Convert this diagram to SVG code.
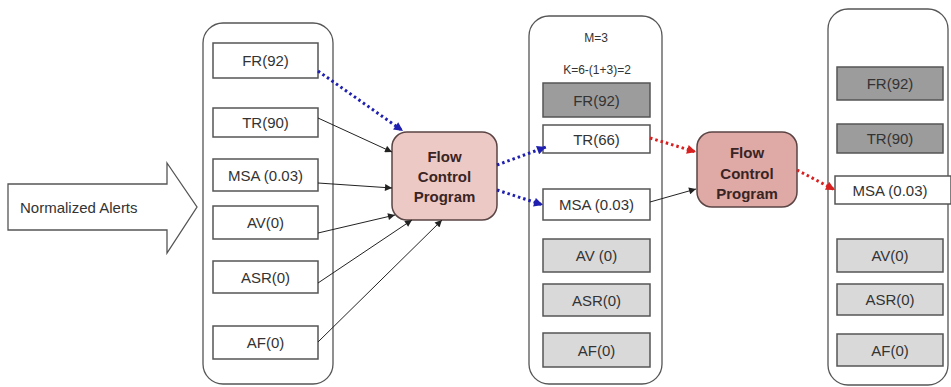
<svg xmlns="http://www.w3.org/2000/svg" width="951" height="387" viewBox="0 0 951 387">
<style>
text{font-family:"Liberation Sans",Arial,sans-serif;fill:#333;text-anchor:middle;dominant-baseline:central}
.cont{fill:#fff;stroke:#555;stroke-width:1.3}
.w{fill:#fff;stroke:#555;stroke-width:1.5}
.d{fill:#9c9c9c;stroke:#555;stroke-width:1.5}
.l{fill:#d9d9d9;stroke:#555;stroke-width:1.5}
.lbl{font-size:15px}
.fcp{stroke:#5a4444;stroke-width:1.5}
.fcpt{font-size:15px;font-weight:bold;fill:#3a2424}
.blk{stroke:#222;stroke-width:1;fill:none}
.blue{stroke:#2020b0;stroke-width:3;stroke-dasharray:2.5 3;fill:none}
.red{stroke:#d82020;stroke-width:3;stroke-dasharray:2.5 3;fill:none}
</style>
<defs>
<marker id="ab" viewBox="0 0 10 10" refX="10" refY="5" markerWidth="9" markerHeight="7" markerUnits="userSpaceOnUse" orient="auto"><path d="M0,0 L10,5 L0,10 z" fill="#222"/></marker>
<marker id="abl" viewBox="0 0 10 10" refX="10" refY="5" markerWidth="10" markerHeight="9" markerUnits="userSpaceOnUse" orient="auto"><path d="M0,0 L10,5 L0,10 z" fill="#2020b0"/></marker>
<marker id="ar" viewBox="0 0 10 10" refX="10" refY="5" markerWidth="10" markerHeight="9" markerUnits="userSpaceOnUse" orient="auto"><path d="M0,0 L10,5 L0,10 z" fill="#d82020"/></marker>
</defs>

<g id="input-arrow">
<path d="M8,184 L167,184 L167,163 L197,207 L167,253 L167,230 L8,230 Z" fill="#fff" stroke="#555" stroke-width="1.3"/>
<text x="20" y="207" style="text-anchor:start;font-size:15px">Normalized Alerts</text>
</g>

<g id="col1">
<rect class="cont" x="203" y="23" width="130" height="361" rx="20"/>
</g>
<g id="c1-fr"><rect class="w" x="213" y="43" width="105" height="35"/><text class="lbl" x="265.5" y="60.5">FR(92)</text></g>
<g id="c1-tr"><rect class="w" x="213" y="108" width="105" height="29"/><text class="lbl" x="265.5" y="122.5">TR(90)</text></g>
<g id="c1-msa"><rect class="w" x="213" y="159" width="105" height="32"/><text class="lbl" x="265.5" y="175">MSA (0.03)</text></g>
<g id="c1-av"><rect class="w" x="213" y="206" width="105" height="33"/><text class="lbl" x="265.5" y="222.5">AV(0)</text></g>
<g id="c1-asr"><rect class="w" x="213" y="261" width="105" height="32"/><text class="lbl" x="265.5" y="277">ASR(0)</text></g>
<g id="c1-af"><rect class="w" x="213" y="326" width="105" height="33"/><text class="lbl" x="265.5" y="342.5">AF(0)</text></g>

<g id="fcp1">
<rect class="fcp" x="392" y="132" width="105" height="88" rx="15" fill="#ecc9c5"/>
<text class="fcpt" x="444.5" y="156">Flow</text>
<text class="fcpt" x="444.5" y="176">Control</text>
<text class="fcpt" x="444.5" y="196">Program</text>
</g>

<g id="col2">
<rect class="cont" x="529" y="16" width="133" height="368" rx="20"/>
<text x="596" y="38" style="font-size:12px">M=3</text>
<text x="597" y="70" style="font-size:12px">K=6-(1+3)=2</text>
</g>
<g id="c2-fr"><rect class="d" x="543" y="83" width="107" height="34"/><text class="lbl" x="596.5" y="100">FR(92)</text></g>
<g id="c2-tr"><rect class="w" x="543" y="125" width="107" height="28"/><text class="lbl" x="596.5" y="139">TR(66)</text></g>
<g id="c2-msa"><rect class="w" x="543" y="189" width="107" height="31"/><text class="lbl" x="596.5" y="204.5">MSA (0.03)</text></g>
<g id="c2-av"><rect class="l" x="543" y="239" width="107" height="33"/><text class="lbl" x="596.5" y="255.5">AV (0)</text></g>
<g id="c2-asr"><rect class="l" x="543" y="284" width="107" height="32"/><text class="lbl" x="596.5" y="300">ASR(0)</text></g>
<g id="c2-af"><rect class="l" x="543" y="333" width="107" height="34"/><text class="lbl" x="596.5" y="350">AF(0)</text></g>

<g id="fcp2">
<rect class="fcp" x="697" y="132" width="100" height="75" rx="15" fill="#dfaaa6"/>
<text class="fcpt" x="747" y="152">Flow</text>
<text class="fcpt" x="747" y="173">Control</text>
<text class="fcpt" x="747" y="193">Program</text>
</g>

<g id="col3">
<rect class="cont" x="828" y="9" width="120" height="376" rx="20"/>
</g>
<g id="c3-fr"><rect class="d" x="837" y="67" width="106" height="33"/><text class="lbl" x="890" y="83.5">FR(92)</text></g>
<g id="c3-tr"><rect class="d" x="837" y="124" width="106" height="29"/><text class="lbl" x="890" y="138.5">TR(90)</text></g>
<g id="c3-msa"><rect class="w" x="835" y="176" width="116" height="28"/><text class="lbl" x="890" y="190">MSA (0.03)</text></g>
<g id="c3-av"><rect class="l" x="837" y="239" width="106" height="33"/><text class="lbl" x="890" y="255.5">AV(0)</text></g>
<g id="c3-asr"><rect class="l" x="837" y="284" width="106" height="31"/><text class="lbl" x="890" y="299.5">ASR(0)</text></g>
<g id="c3-af"><rect class="l" x="837" y="334" width="106" height="32"/><text class="lbl" x="890" y="350">AF(0)</text></g>

<g id="connectors">
<line class="blue" x1="318" y1="71" x2="403" y2="131" marker-end="url(#abl)"/>
<line class="blk" x1="318" y1="118" x2="392" y2="152" marker-end="url(#ab)"/>
<line class="blk" x1="318" y1="183" x2="392" y2="188" marker-end="url(#ab)"/>
<line class="blk" x1="318" y1="233" x2="395" y2="215" marker-end="url(#ab)"/>
<line class="blk" x1="318" y1="283" x2="412" y2="220" marker-end="url(#ab)"/>
<line class="blk" x1="318" y1="342" x2="442" y2="220" marker-end="url(#ab)"/>
<line class="blue" x1="497" y1="165" x2="546" y2="147" marker-end="url(#abl)"/>
<line class="blue" x1="497" y1="190" x2="543" y2="205" marker-end="url(#abl)"/>
<line class="red" x1="650" y1="138" x2="696" y2="152" marker-end="url(#ar)"/>
<line class="blk" x1="650" y1="202" x2="696" y2="189" marker-end="url(#ab)"/>
<line class="red" x1="797" y1="170" x2="835" y2="190" marker-end="url(#ar)"/>
</g>
</svg>
